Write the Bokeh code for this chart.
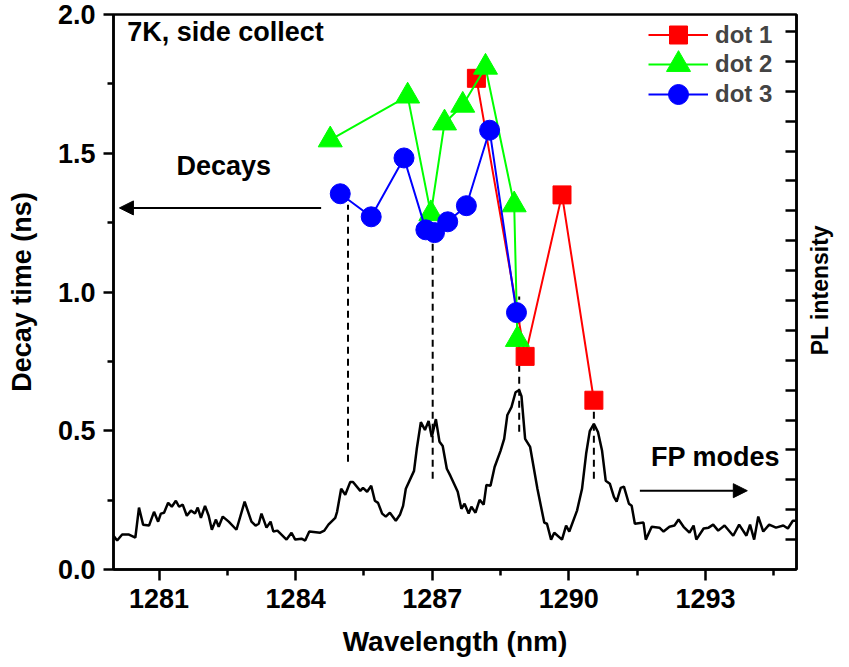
import math
from bokeh.plotting import figure
from bokeh.models import (Range1d, LinearAxis, FixedTicker, PrintfTickFormatter,
                          CustomJSTickFormatter, Label, Arrow, NormalHead, Legend, LegendItem)
from bokeh.embed import file_html
from bokeh.resources import INLINE

# ---------------- data ----------------
dot1_wl = [1287.97, 1289.04, 1289.85, 1290.55]
dot1_tau = [1.770, 0.768, 1.350, 0.610]

dot2_wl = [1284.76, 1286.46, 1286.97, 1287.27, 1287.67, 1288.17, 1288.80, 1288.87]
dot2_tau = [1.548, 1.706, 1.282, 1.609, 1.673, 1.810, 1.314, 0.829]

dot3_wl = [1284.98, 1285.66, 1286.38, 1286.86, 1287.05, 1287.34, 1287.75, 1288.26, 1288.85]
dot3_tau = [1.354, 1.271, 1.483, 1.224, 1.214, 1.253, 1.311, 1.583, 0.926]

pl_wl = [1280.00, 1280.08, 1280.19, 1280.34, 1280.48, 1280.56, 1280.65, 1280.78, 1280.89, 1280.98,
         1281.04, 1281.11, 1281.20, 1281.28, 1281.37, 1281.44, 1281.52, 1281.61, 1281.70, 1281.79,
         1281.85, 1281.92, 1282.01, 1282.09, 1282.16, 1282.25, 1282.31, 1282.40, 1282.53, 1282.70,
         1282.88, 1283.03, 1283.12, 1283.19, 1283.25, 1283.36, 1283.45, 1283.51, 1283.60, 1283.80,
         1283.91, 1283.99, 1284.13, 1284.21, 1284.30, 1284.54, 1284.63, 1284.72, 1284.87, 1284.91,
         1285.00, 1285.09, 1285.20, 1285.26, 1285.42, 1285.48, 1285.57, 1285.66, 1285.74, 1285.81,
         1285.90, 1285.98, 1286.07, 1286.20, 1286.29, 1286.36, 1286.42, 1286.60, 1286.66, 1286.75,
         1286.84, 1286.92, 1286.99, 1287.08, 1287.16, 1287.23, 1287.32, 1287.40, 1287.51, 1287.56,
         1287.64, 1287.71, 1287.80, 1287.86, 1287.95, 1288.04, 1288.13, 1288.19, 1288.28, 1288.37,
         1288.50, 1288.58, 1288.65, 1288.74, 1288.83, 1288.91, 1288.96, 1289.04, 1289.15, 1289.31,
         1289.46, 1289.52, 1289.61, 1289.68, 1289.85, 1289.94, 1290.01, 1290.18, 1290.29, 1290.38,
         1290.46, 1290.55, 1290.64, 1290.73, 1290.81, 1290.90, 1290.99, 1291.05, 1291.14, 1291.21,
         1291.32, 1291.38, 1291.45, 1291.64, 1291.69, 1291.82, 1291.99, 1292.08, 1292.21, 1292.32,
         1292.41, 1292.52, 1292.65, 1292.74, 1292.80, 1292.96, 1293.07, 1293.17, 1293.28, 1293.42,
         1293.61, 1293.74, 1293.90, 1293.98, 1294.07, 1294.16, 1294.27, 1294.40, 1294.55, 1294.71,
         1294.81, 1294.92, 1295.00]
pl_int = [1.13, 0.97, 1.17, 1.17, 1.07, 2.07, 1.50, 1.47, 1.93, 1.60,
          1.87, 1.90, 2.23, 2.10, 2.30, 2.10, 2.17, 1.80, 1.97, 1.87,
          2.07, 1.73, 2.13, 1.80, 1.33, 1.67, 1.43, 1.77, 1.60, 1.33,
          2.27, 1.60, 1.47, 1.53, 1.87, 1.40, 1.60, 1.27, 1.30, 1.00,
          1.23, 1.00, 1.03, 0.97, 1.27, 1.23, 1.30, 1.50, 1.73, 1.93,
          2.70, 2.50, 2.93, 2.93, 2.63, 2.73, 2.60, 2.80, 2.30, 2.23,
          1.87, 1.77, 1.90, 1.63, 1.83, 2.13, 2.70, 3.30, 4.03, 4.93,
          4.67, 4.97, 4.43, 5.03, 4.27, 4.13, 3.37, 3.13, 2.77, 2.60,
          2.03, 2.20, 1.87, 2.10, 1.90, 2.33, 2.17, 2.83, 2.80, 3.43,
          3.97, 4.37, 5.17, 5.43, 5.93, 6.00, 5.80, 4.37, 4.10, 2.70,
          1.57, 1.53, 1.00, 1.23, 1.00, 1.47, 1.27, 1.97, 2.70, 3.87,
          4.63, 4.87, 4.60, 3.97, 2.97, 2.87, 2.43, 2.27, 2.73, 2.77,
          2.20, 2.13, 1.53, 1.57, 1.00, 1.43, 1.40, 1.27, 1.43, 1.47,
          1.67, 1.43, 1.23, 1.47, 1.00, 1.37, 1.40, 1.50, 1.30, 1.47,
          1.13, 1.50, 1.13, 1.50, 1.00, 1.77, 1.27, 1.50, 1.40, 1.47,
          1.37, 1.63, 1.63]

mode_wl = [1285.15, 1287.01, 1288.91, 1290.55]
mode_top = [1.314, 1.210, 0.984, 0.603]
mode_bottom = [0.388, 0.327, 0.496, 0.327]

x_ticks = [1281, 1284, 1287, 1290, 1293]
x_minor = [1282.5, 1285.5, 1288.5, 1291.5, 1294.5]
y_ticks = [0.0, 0.5, 1.0, 1.5, 2.0]
y_minor = [0.25, 0.75, 1.25, 1.75]
pl_ticks = list(range(1, 19))

FONT = "Liberation Sans"

p = figure(width=849, height=659, output_backend="svg", toolbar_location=None,
           x_range=Range1d(1280, 1295), y_range=Range1d(0, 2.0),
           min_border_left=113, min_border_right=52, min_border_top=14, min_border_bottom=88)
p.extra_y_ranges = {"pl": Range1d(0, 18.567)}
p.grid.visible = False
p.outline_line_color = "black"
p.outline_line_width = 2.5
p.background_fill_color = "white"
p.border_fill_color = "white"

def style_axis(ax):
    ax.axis_line_width = 2.5
    ax.major_tick_line_width = 2.5
    ax.minor_tick_line_width = 2.5
    ax.major_label_text_font = FONT
    ax.major_label_text_font_style = "bold"
    ax.major_label_text_font_size = "27px"
    ax.axis_label_text_font = FONT
    ax.axis_label_text_font_style = "bold"
    ax.axis_label_text_font_size = "27px"
    ax.major_label_text_color = "black"
    ax.axis_label_text_color = "black"

xa = p.xaxis[0]
xa.ticker = FixedTicker(ticks=x_ticks, minor_ticks=x_minor)
xa.axis_label = "Wavelength (nm)"
style_axis(xa)
xa.axis_label_text_font_size = "28px"
xa.major_tick_out = 11
xa.major_tick_in = 0
xa.minor_tick_out = 6
xa.minor_tick_in = 0
xa.major_label_standoff = 8
xa.axis_label_standoff = 15

ya = p.yaxis[0]
ya.ticker = FixedTicker(ticks=y_ticks, minor_ticks=y_minor)
ya.formatter = PrintfTickFormatter(format="%.1f")
ya.axis_label = "Decay time (ns)"
style_axis(ya)
ya.major_tick_out = 10
ya.major_tick_in = 0
ya.minor_tick_out = 6
ya.minor_tick_in = 0
ya.major_label_standoff = 8
ya.axis_label_standoff = 18

# right axis: inward ticks only
ra = LinearAxis(y_range_name="pl", ticker=FixedTicker(ticks=pl_ticks, minor_ticks=[]),
                formatter=CustomJSTickFormatter(code="return ''"))
style_axis(ra)
ra.major_tick_in = 11
ra.major_tick_out = 0
ra.minor_tick_in = 0
ra.minor_tick_out = 0
ra.major_label_standoff = 0
p.add_layout(ra, "right")

# second right axis carrying only the title (as one rotated tick label,
# anchored at its start so that the text is centred on the frame)
PL_TITLE_START = 0.772
rl = LinearAxis(ticker=FixedTicker(ticks=[PL_TITLE_START], minor_ticks=[]),
                formatter=CustomJSTickFormatter(code="return 'PL intensity'"))
style_axis(rl)
rl.axis_line_color = None
rl.major_tick_line_color = None
rl.minor_tick_line_color = None
rl.major_tick_in = 0
rl.major_tick_out = 0
rl.minor_tick_in = 0
rl.minor_tick_out = 0
rl.major_label_text_font_size = "23px"
rl.major_label_standoff = 24
rl.major_label_orientation = math.pi / 2
p.add_layout(rl, "right")

# PL spectrum
p.line(pl_wl, pl_int, y_range_name="pl", line_color="black", line_width=2.5)

# dashed guides
p.segment(x0=mode_wl, y0=mode_bottom, x1=mode_wl, y1=mode_top,
          line_color="black", line_width=2, line_dash="7 5")

# decay series
l1 = p.line(dot1_wl, dot1_tau, line_color="#ff0000", line_width=2)
s1 = p.scatter(dot1_wl, dot1_tau, marker="square", size=18, fill_color="#ff0000", line_color="#ff0000")
l2 = p.line(dot2_wl, dot2_tau, line_color="#00ff00", line_width=2)
s2 = p.scatter(dot2_wl, dot2_tau, marker="triangle", size=24, fill_color="#00ff00", line_color="#00ff00")
l3 = p.line(dot3_wl, dot3_tau, line_color="#0000ff", line_width=2)
s3 = p.scatter(dot3_wl, dot3_tau, marker="circle", size=20, fill_color="#0000ff", line_color="#0000ff")

# one legend per entry so that the markers keep their full size at a 30px pitch
legend_specs = [("dot 1", [l1, s1], 45, 512),
                ("dot 2", [l2, s2], 60, 475),
                ("dot 3", [l3, s3], 50, 450)]
for label, rends, gh, ly in legend_specs:
    lg = Legend(items=[LegendItem(label=label, renderers=rends)], location=(535, ly))
    lg.border_line_color = None
    lg.background_fill_alpha = 0
    lg.padding = 0
    lg.margin = 0
    lg.spacing = 0
    lg.glyph_width = 60
    lg.glyph_height = gh
    lg.label_height = gh
    lg.label_standoff = 7
    lg.label_text_font = FONT
    lg.label_text_font_style = "bold"
    lg.label_text_font_size = "24px"
    p.add_layout(lg)

# annotations
def add_text(txt, x, y, align, baseline, size):
    p.add_layout(Label(x=x, y=y, text=txt, text_font=FONT, text_font_style="bold",
                       text_font_size=size, text_align=align, text_baseline=baseline,
                       text_color="black"))

add_text("7K, side collect", 1280.30, 1.99, "left", "top", "27px")
add_text("Decays", 1282.42, 1.454, "center", "middle", "27px")
add_text("FP modes", 1293.22, 0.406, "center", "middle", "27px")

p.add_layout(Arrow(end=NormalHead(size=14, fill_color="black", line_color="black"),
                   x_start=1284.56, y_start=1.303, x_end=1280.13, y_end=1.303,
                   line_color="black", line_width=2))
p.add_layout(Arrow(end=NormalHead(size=14, fill_color="black", line_color="black"),
                   x_start=1291.56, y_start=0.284, x_end=1293.92, y_end=0.284,
                   line_color="black", line_width=2))

open("out.html", "w").write(file_html(p, INLINE))
